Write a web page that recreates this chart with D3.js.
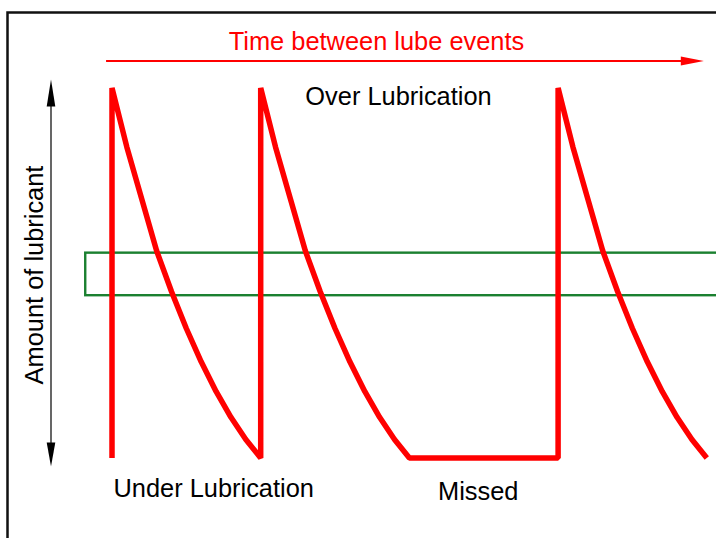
<!DOCTYPE html>
<html>
<head>
<meta charset="utf-8">
<script src="https://cdn.jsdelivr.net/npm/d3@7/dist/d3.min.js"></script>
<style>
  html, body { margin: 0; padding: 0; background: #fff; }
  svg { display: block; font-family: "Liberation Sans", Arial, sans-serif; }
</style>
</head>
<body>
<svg id="chart" width="716" height="538"></svg>
<script>
// ---- data ----
// lube events, in units of the nominal lube interval
const lubeEventTimes = [0, 1, 3];
const missedEventTimes = [2];
// lubricant remaining after a lube event, as a fraction of a full charge
const decayPhase = [0, 0.1, 0.2, 0.3, 0.4, 0.5, 0.6, 0.7, 0.8, 0.9, 1.0];
const decayLevel = [1.00, 0.84, 0.70, 0.56, 0.45, 0.35, 0.26, 0.18, 0.11, 0.05, 0.00];
// target lubricant band (fraction of a full charge)
const targetBand = [0.44, 0.555];
const targetBandTime = [-0.18, 4.6];
const timeAxisExtent = [-0.04, 3.98];
const amountAxisExtent = [-0.02, 1.02];

const labelTime = "Time between lube events";
const labelAmount = "Amount of lubricant";
const labelOver = "Over Lubrication";
const labelUnder = "Under Lubrication";
const labelMissed = "Missed";

// ---- scales ----
const svg = d3.select("#chart");
const x = d3.scaleLinear().domain([0, 4]).range([112, 112 + 4 * 148.7]);
const y = d3.scaleLinear().domain([0, 1]).range([458, 88]);

// frame
svg.append("rect")
  .attr("x", 7.5).attr("y", 12.5)
  .attr("width", 800).attr("height", 600)
  .attr("fill", "none").attr("stroke", "#111").attr("stroke-width", 2.5);

// target band
svg.append("rect")
  .attr("x", x(targetBandTime[0]))
  .attr("y", y(targetBand[1]))
  .attr("width", x(targetBandTime[1]) - x(targetBandTime[0]))
  .attr("height", y(targetBand[0]) - y(targetBand[1]))
  .attr("fill", "none").attr("stroke", "#1b8030").attr("stroke-width", 2.4);

// lubricant level path
const pts = [];
lubeEventTimes.forEach(e => {
  pts.push([e, 0]);
  decayPhase.forEach((p, i) => pts.push([e + p, decayLevel[i]]));
});
const line = d3.line().x(d => x(d[0])).y(d => y(d[1]));
svg.append("path")
  .attr("d", line(pts))
  .attr("fill", "none")
  .attr("stroke", "#ff0000")
  .attr("stroke-width", 5.5)
  .attr("stroke-linejoin", "bevel")
  .attr("stroke-linecap", "butt");

// time arrow (red, horizontal)
const ta0 = x(timeAxisExtent[0]), ta1 = x(timeAxisExtent[1]);
const tay = 61;
svg.append("line")
  .attr("x1", ta0).attr("x2", ta1 - 20)
  .attr("y1", tay).attr("y2", tay)
  .attr("stroke", "#ff0000").attr("stroke-width", 2);
svg.append("path")
  .attr("d", `M${ta1},${tay} L${ta1 - 23},${tay - 4.5} L${ta1 - 23},${tay + 4.5} Z`)
  .attr("fill", "#ff0000");

// amount arrow (black, vertical, double headed)
const ax = 51;
const ay0 = y(amountAxisExtent[0]) + 1, ay1 = y(amountAxisExtent[1]) - 1;
svg.append("line")
  .attr("x1", ax).attr("x2", ax)
  .attr("y1", ay1 + 20).attr("y2", ay0 - 18)
  .attr("stroke", "#000").attr("stroke-width", 1.2);
svg.append("path")
  .attr("d", `M${ax},${ay1} L${ax - 4.3},${ay1 + 27} L${ax + 4.3},${ay1 + 27} Z`)
  .attr("fill", "#000");
svg.append("path")
  .attr("d", `M${ax},${ay0} L${ax - 4.3},${ay0 - 24} L${ax + 4.3},${ay0 - 24} Z`)
  .attr("fill", "#000");

// labels
const fs = 25.4;
svg.append("text")
  .attr("x", 376.5).attr("y", 49.5)
  .attr("text-anchor", "middle")
  .attr("font-size", fs).attr("fill", "#ff0000")
  .text(labelTime);
svg.append("text")
  .attr("x", 398.5).attr("y", 105)
  .attr("text-anchor", "middle")
  .attr("font-size", fs).attr("fill", "#000")
  .text(labelOver);
svg.append("text")
  .attr("x", 113.5).attr("y", 497)
  .attr("font-size", fs).attr("fill", "#000")
  .text(labelUnder);
svg.append("text")
  .attr("x", 438).attr("y", 500)
  .attr("font-size", fs).attr("fill", "#000")
  .text(labelMissed);
svg.append("text")
  .attr("transform", "translate(43.3,275) rotate(-90)")
  .attr("text-anchor", "middle")
  .attr("font-size", fs).attr("fill", "#000")
  .text(labelAmount);
</script>
</body>
</html>
